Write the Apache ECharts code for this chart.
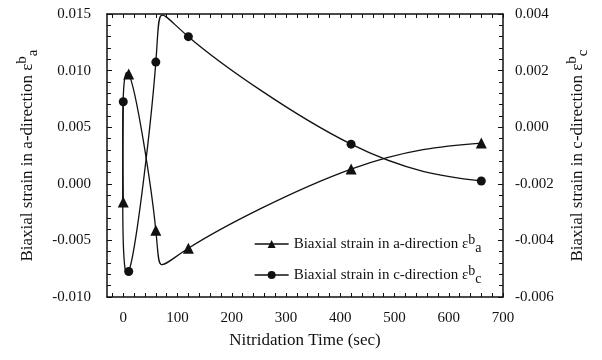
<!DOCTYPE html>
<html><head><meta charset="utf-8">
<script src="https://cdn.jsdelivr.net/npm/echarts@6/dist/echarts.min.js"></script>
<style>html,body{margin:0;padding:0;background:#fff}#c{width:602px;height:360px}</style>
</head><body><div id="c"></div>
<script>
const times = [0, 10, 60, 120, 420, 660];
const strainA = [-0.0016, 0.0097, -0.0041, -0.0057, 0.0013, 0.0036];
const strainC = [0.0009, -0.0051, 0.0023, 0.0032, -0.0006, -0.0019];
const xLabels = [0, 100, 200, 300, 400, 500, 600, 700];
const xMinorTicks = [];
for (let v = -20; v <= 700; v += 20) xMinorTicks.push(v);

// natural cubic spline slopes at the knots
function splineSlopes(xs, ys) {
  const n = xs.length, h = [], M = new Array(n).fill(0);
  for (let i = 0; i < n - 1; i++) h.push(xs[i + 1] - xs[i]);
  const a = [], b = [], c = [], d = [];
  for (let i = 1; i < n - 1; i++) {
    a.push(h[i - 1]); b.push(2 * (h[i - 1] + h[i])); c.push(h[i]);
    d.push(6 * ((ys[i + 1] - ys[i]) / h[i] - (ys[i] - ys[i - 1]) / h[i - 1]));
  }
  const m = b.length;
  for (let i = 1; i < m; i++) { const w = a[i] / b[i - 1]; b[i] -= w * c[i - 1]; d[i] -= w * d[i - 1]; }
  const sol = new Array(m);
  for (let i = m - 1; i >= 0; i--) sol[i] = (d[i] - (i < m - 1 ? c[i] * sol[i + 1] : 0)) / b[i];
  for (let i = 0; i < m; i++) M[i + 1] = sol[i];
  const s = [];
  for (let i = 0; i < n - 1; i++) s.push((ys[i + 1] - ys[i]) / h[i] - h[i] * (2 * M[i] + M[i + 1]) / 6);
  s.push((ys[n - 1] - ys[n - 2]) / h[n - 2] + h[n - 2] * (M[n - 2] + 2 * M[n - 1]) / 6);
  return s;
}
// draws a parametric spline curve through the data points (pixel positions from api.coord)
function curveRenderer(ys) {
  return function (params, api) {
    if (params.dataIndex !== 0) return null;
    const P = times.map((t, i) => api.coord([t, ys[i]]));
    const u = P.map((p, i) => i);
    const sx = splineSlopes(u, P.map(p => p[0]));
    const sy = splineSlopes(u, P.map(p => p[1]));
    let d = 'M' + P[0][0] + ',' + P[0][1];
    for (let i = 0; i < P.length - 1; i++) {
      d += 'C' + (P[i][0] + sx[i] / 3) + ',' + (P[i][1] + sy[i] / 3) + ' ' +
        (P[i + 1][0] - sx[i + 1] / 3) + ',' + (P[i + 1][1] - sy[i + 1] / 3) + ' ' + P[i + 1][0] + ',' + P[i + 1][1];
    }
    return {type: 'path', shape: {pathData: d}, style: {fill: 'none', stroke: '#111', lineWidth: 1.3}};
  };
}

const F = 'Liberation Serif';
const rich = {
  sup: {fontFamily: F, fontSize: 14, color: '#111', verticalAlign: 'top', lineHeight: 22},
  sub: {fontFamily: F, fontSize: 14, color: '#111', verticalAlign: 'bottom', lineHeight: 22}
};
const richName = {
  sup: {fontFamily: F, fontSize: 15, color: '#111', verticalAlign: 'top', lineHeight: 26},
  sub: {fontFamily: F, fontSize: 15, color: '#111', verticalAlign: 'bottom', lineHeight: 26}
};
const chart = echarts.init(document.getElementById('c'));
chart.setOption({
  animation: false,
  backgroundColor: '#fff',
  grid: {left: 107, right: 99, top: 14, bottom: 63},
  legend: {
    orient: 'vertical', left: 249, top: 228, itemGap: 9, itemWidth: 34, itemHeight: 10,
    textStyle: {fontFamily: F, fontSize: 15, color: '#111', rich: rich},
    formatter: function (n) { return n === 'a' ? 'Biaxial strain in a-direction ε{sup|b}{sub|a}' : 'Biaxial strain in c-direction ε{sup|b}{sub|c}'; },
    data: [
      {name: 'a', lineStyle: {color: '#111', width: 1.3, opacity: 1}},
      {name: 'c', lineStyle: {color: '#111', width: 1.3, opacity: 1}}
    ]
  },
  xAxis: [{
    type: 'value', min: -30, max: 700,
    name: 'Nitridation Time (sec)', nameLocation: 'middle', nameGap: 35,
    nameTextStyle: {fontFamily: F, fontSize: 17, color: '#111'},
    axisLine: {show: true, onZero: false, lineStyle: {color: '#111', width: 1.5}},
    axisTick: {show: true, inside: true, length: 4, customValues: xMinorTicks, lineStyle: {color: '#111'}},
    axisLabel: {customValues: xLabels, fontFamily: F, fontSize: 15, color: '#111', margin: 14},
    splitLine: {show: false}
  }, {
    type: 'value', min: -30, max: 700, position: 'top',
    axisLine: {show: true, onZero: false, lineStyle: {color: '#111', width: 1.5}},
    axisTick: {show: true, inside: true, length: 4, customValues: xMinorTicks, lineStyle: {color: '#111'}},
    axisLabel: {show: false}, splitLine: {show: false}
  }],
  yAxis: [{
    type: 'value', min: -0.010, max: 0.015, interval: 0.005,
    name: 'Biaxial strain in a-direction ε{sup|b}{sub|a}', nameLocation: 'middle', nameRotate: 90, nameGap: 66,
    nameTextStyle: {fontFamily: F, fontSize: 17, color: '#111', rich: richName},
    axisLine: {show: true, onZero: false, lineStyle: {color: '#111', width: 1.5}},
    axisTick: {show: true, inside: true, length: 5, lineStyle: {color: '#111'}},
    minorTick: {show: true, splitNumber: 5, length: 4, lineStyle: {color: '#111'}},
    axisLabel: {fontFamily: F, fontSize: 15, color: '#111', margin: 16, formatter: v => v.toFixed(3)},
    splitLine: {show: false}
  }, {
    type: 'value', min: -0.006, max: 0.004, interval: 0.002, position: 'right',
    name: 'Biaxial strain in c-direction ε{sup|b}{sub|c}', nameLocation: 'middle', nameRotate: 90, nameGap: 60,
    nameTextStyle: {fontFamily: F, fontSize: 17, color: '#111', rich: richName},
    axisLine: {show: true, onZero: false, lineStyle: {color: '#111', width: 1.5}},
    axisTick: {show: true, inside: true, length: 5, lineStyle: {color: '#111'}},
    minorTick: {show: true, splitNumber: 5, length: 4, lineStyle: {color: '#111'}},
    axisLabel: {fontFamily: F, fontSize: 15, color: '#111', margin: 12, formatter: v => v.toFixed(3)},
    splitLine: {show: false}
  }],
  series: [{
    name: 'a', type: 'line', yAxisIndex: 0,
    data: times.map((t, i) => [t, strainA[i]]),
    symbol: 'triangle', symbolSize: 11,
    lineStyle: {width: 0, opacity: 0}, itemStyle: {color: '#111'}, z: 3
  }, {
    name: 'c', type: 'line', yAxisIndex: 1,
    data: times.map((t, i) => [t, strainC[i]]),
    symbol: 'circle', symbolSize: 9,
    lineStyle: {width: 0, opacity: 0}, itemStyle: {color: '#111'}, z: 3
  }, {
    name: 'a-curve', type: 'custom', yAxisIndex: 0, xAxisIndex: 0,
    data: times.map((t, i) => [t, strainA[i]]),
    encode: {x: 0, y: 1}, renderItem: curveRenderer(strainA), z: 2
  }, {
    name: 'c-curve', type: 'custom', yAxisIndex: 1, xAxisIndex: 0,
    data: times.map((t, i) => [t, strainC[i]]),
    encode: {x: 0, y: 1}, renderItem: curveRenderer(strainC), z: 2
  }]
});
</script></body></html>
